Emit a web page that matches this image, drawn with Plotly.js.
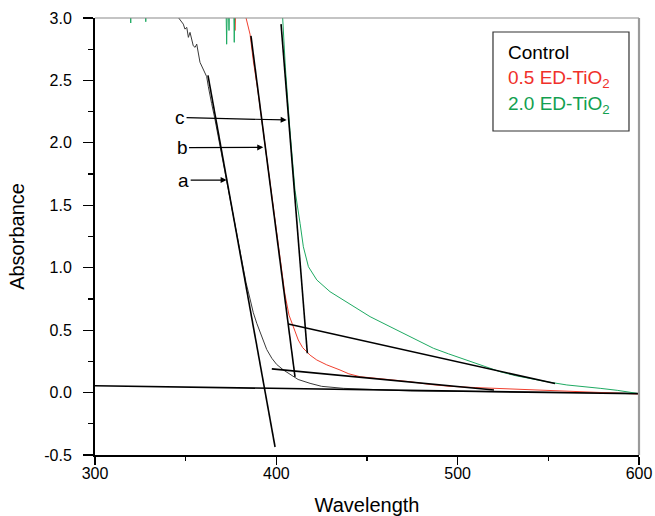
<!DOCTYPE html>
<html>
<head>
<meta charset="utf-8">
<script src="https://cdn.plot.ly/plotly-3.0.1.min.js"></script>
<style>html,body{margin:0;padding:0;background:#fff;}#chart{width:655px;height:516px;}</style>
</head>
<body>
<div id="chart"></div>
<script>
// ---- data ----
const seriesNames = ["Control", "0.5 ED-TiO<sub>2</sub>", "2.0 ED-TiO<sub>2</sub>"];

const xTickVals = [300, 400, 500, 600];
const xTickText = ["300", "400", "500", "600"];
const yTickVals = [-0.5, 0, 0.5, 1.0, 1.5, 2.0, 2.5, 3.0];
const yTickText = ["-0.5", "0.0", "0.5", "1.0", "1.5", "2.0", "2.5", "3.0"];

const ctrlWl  = [342, 345.9, 348.7, 349.6, 350.6, 351.5, 352.4, 354.2, 355.2, 356.1, 357.9, 359.5, 361.6, 362.5, 363.4, 364.3, 366, 369, 372, 374.5, 377, 380, 383.3, 385.5, 387.3, 389.2, 392, 394.7, 397.5, 400.2, 404, 408.5, 412, 418.6, 425, 437, 455, 474, 500, 530, 560, 600];
const ctrlAbs = [3.2, 3.005, 2.951, 2.911, 2.925, 2.845, 2.885, 2.777, 2.765, 2.791, 2.645, 2.6, 2.53, 2.45, 2.37, 2.316, 2.2, 1.97, 1.74, 1.54, 1.34, 1.12, 0.88, 0.75, 0.64, 0.555, 0.44, 0.345, 0.275, 0.225, 0.18, 0.141, 0.105, 0.074, 0.05, 0.034, 0.021, 0.013, 0.01, 0.006, 0.002, -0.005];

const ed05Wl  = [365, 376.5, 377.2, 378, 381, 383.3, 385.5, 387.3, 390, 393, 396, 399, 402, 404.7, 407, 409.4, 412.1, 414.5, 418.6, 422.3, 427.8, 435.1, 440, 446.2, 452, 459, 466.4, 473.7, 484.8, 495.8, 510, 527, 545, 563.8, 580, 600];
const ed05Abs = [3.3, 3.2, 2.9, 3.2, 3.2, 3.0, 2.87, 2.657, 2.40, 2.08, 1.75, 1.42, 1.09, 0.79, 0.62, 0.528, 0.421, 0.36, 0.30, 0.261, 0.222, 0.181, 0.15, 0.127, 0.118, 0.112, 0.097, 0.087, 0.065, 0.05, 0.04, 0.029, 0.018, 0.007, 0.0, -0.012];

const ed20Wl  = [315, 319.2, 319.7, 320.2, 327.5, 328, 328.5, 372, 372.6, 373.2, 373.9, 374.5, 376.3, 376.8, 377.3, 402, 403.5, 405, 407.5, 410.3, 413.1, 414.9, 417.7, 422.3, 429.6, 436.9, 444.3, 451.7, 462.7, 468.2, 477, 486.6, 495, 505, 514, 523.4, 532, 541.8, 550, 560.2, 570, 578.6, 588, 598.8];
const ed20Abs = [3.3, 3.3, 2.96, 3.3, 3.3, 2.97, 3.3, 3.3, 2.79, 3.3, 2.9, 3.3, 3.3, 2.805, 3.3, 3.2, 3.0, 2.6, 2.1, 1.62, 1.355, 1.168, 1.008, 0.902, 0.808, 0.741, 0.675, 0.608, 0.528, 0.488, 0.42, 0.355, 0.31, 0.261, 0.215, 0.167, 0.135, 0.106, 0.085, 0.061, 0.048, 0.034, 0.018, -0.006];

// tangent / baseline construction lines
const tanAWl = [362.3, 399.3],  tanAAbs = [2.54, -0.436];
const tanBWl = [386.0, 410.3],  tanBAbs = [2.857, 0.125];
const tanCWl = [402.6, 417.1],  tanCAbs = [2.951, 0.315];
const baseCtrlWl = [300, 600],  baseCtrlAbs = [0.055, -0.01];
const baseBWl = [397.5, 520],   baseBAbs = [0.19, 0.02];
const baseCWl = [406.6, 553.7], baseCAbs = [0.549, 0.072];

// arrow labels
const arrowLabels = ["c", "b", "a"];
const arrowTailWl = [346.9, 348.0, 348.9];
const arrowTailAbs = [2.203, 1.961, 1.702];
const arrowTipWl = [405.7, 392.8, 372.6];
const arrowTipAbs = [2.183, 1.964, 1.702];

// ---- traces ----
const FONT = "Liberation Sans, Arial, Helvetica, sans-serif";
const colCtrl = "#3a3a3a", colRed = "#f0402f", colGreen = "#1eaa62";

const traces = [
  {x: ctrlWl, y: ctrlAbs, mode: "lines", line: {color: colCtrl, width: 1}, name: "Control"},
  {x: ed05Wl, y: ed05Abs, mode: "lines", line: {color: colRed, width: 1}, name: "0.5 ED-TiO2"},
  {x: ed20Wl, y: ed20Abs, mode: "lines", line: {color: colGreen, width: 1}, name: "2.0 ED-TiO2"}
];
const construct = [[tanAWl, tanAAbs], [tanBWl, tanBAbs], [tanCWl, tanCAbs], [baseCtrlWl, baseCtrlAbs], [baseBWl, baseBAbs], [baseCWl, baseCAbs]];
construct.forEach(function (p) {
  traces.push({x: p[0], y: p[1], mode: "lines", line: {color: "#000", width: 1.6}, hoverinfo: "skip"});
});

const annotations = [];
arrowLabels.forEach(function (t, i) {
  annotations.push({
    x: arrowTipWl[i], y: arrowTipAbs[i], xref: "x", yref: "y",
    ax: arrowTailWl[i], ay: arrowTailAbs[i], axref: "x", ayref: "y",
    text: t, showarrow: true, arrowhead: 2, arrowsize: 1, arrowwidth: 1.2, arrowcolor: "#000",
    font: {family: FONT, size: 19, color: "#000"}
  });
});
const legColors = ["#000", "#f0302a", "#12a050"];
const legY = [0.92, 0.86, 0.80];
seriesNames.forEach(function (t, i) {
  annotations.push({
    x: 0.755, y: legY[i], xref: "paper", yref: "paper", xanchor: "left", yanchor: "middle",
    text: t, showarrow: false, font: {family: FONT, size: 19, color: legColors[i]}
  });
});

const layout = {
  width: 655, height: 516,
  margin: {l: 95, r: 16, t: 18, b: 61},
  paper_bgcolor: "#fff", plot_bgcolor: "#fff",
  showlegend: false,
  font: {family: FONT, color: "#000"},
  xaxis: {
    range: [300, 600], tickmode: "array", tickvals: xTickVals, ticktext: xTickText,
    showgrid: false, zeroline: false,
    showline: true, linecolor: "#000", linewidth: 1.5,
    ticks: "outside", ticklen: 8, tickwidth: 1.2, tickcolor: "#000",
    ticklabelstandoff: -5,
    minor: {dtick: 50, tick0: 300, ticks: "outside", ticklen: 4, tickwidth: 1.2, tickcolor: "#000"},
    tickfont: {family: FONT, size: 16, color: "#000"},
    title: {text: "Wavelength", font: {family: FONT, size: 20, color: "#000"}, standoff: 23}
  },
  yaxis: {
    range: [-0.5, 3.0], tickmode: "array", tickvals: yTickVals, ticktext: yTickText,
    showgrid: false, zeroline: false,
    showline: true, linecolor: "#000", linewidth: 2,
    ticks: "outside", ticklen: 10, tickwidth: 1.2, tickcolor: "#000",
    ticklabelstandoff: 8,
    minor: {dtick: 0.25, tick0: 0, ticks: "outside", ticklen: 5, tickwidth: 1.2, tickcolor: "#000"},
    tickfont: {family: FONT, size: 16, color: "#000"},
    title: {text: "Absorbance", font: {family: FONT, size: 20, color: "#000"}, standoff: 14}
  },
  shapes: [
    {type: "line", xref: "paper", yref: "paper", x0: 0, x1: 1, y0: 1, y1: 1, line: {color: "#8a8a8a", width: 1.2}},
    {type: "line", xref: "paper", yref: "paper", x0: 1, x1: 1, y0: 0, y1: 1, line: {color: "#9a9a9a", width: 2.2}},
    {type: "rect", xref: "paper", yref: "paper", x0: 0.7316, x1: 0.9816, y0: 0.7414, y1: 0.968, line: {color: "#333", width: 1.2}, fillcolor: "rgba(0,0,0,0)"}
  ],
  annotations: annotations
};

Plotly.newPlot("chart", traces, layout, {staticPlot: true, displayModeBar: false});
</script>
</body>
</html>
